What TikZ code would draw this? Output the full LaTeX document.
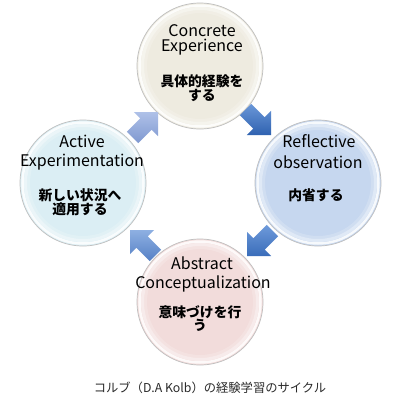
\documentclass[tikz,border=0pt]{standalone}
\usepackage{fontspec}
\setmainfont{Noto Sans CJK JP}
\definecolor{cTop}{HTML}{EEEBE0}
\definecolor{cRight}{HTML}{C6D7EF}
\definecolor{cLeft}{HTML}{DBEEF4}
\definecolor{cBottom}{HTML}{F2DCDB}
\definecolor{aOneT}{HTML}{6A97D8}
\definecolor{aOneB}{HTML}{2F62B0}
\definecolor{aTwoT}{HTML}{6E9ADA}
\definecolor{aTwoB}{HTML}{3A6DBA}
\definecolor{aThrT}{HTML}{8EB0E2}
\definecolor{aThrB}{HTML}{5580C5}
\definecolor{aFouT}{HTML}{AFC1E8}
\definecolor{aFouB}{HTML}{7F98D0}
\definecolor{capc}{HTML}{2A2A2A}
\tikzset{
  bubble/.style={circle, minimum size=126pt, inner sep=0pt, fill=#1, draw=black!25, line width=0.7pt},
  en/.style={font=\fontsize{16}{18}\selectfont, inner sep=0pt},
  ja/.style={font=\fontsize{13.8}{15}\bfseries\selectfont, inner sep=0pt},
}
\begin{document}
\begin{tikzpicture}[x=1pt,y=-1pt]
\useasboundingbox (0,0) rectangle (400,400);
\fill[white] (0,0) rectangle (400,400);

% circles
\node[bubble=cTop] (ce) at (200,66) {};
\node[bubble=cRight] (ro) at (318,183) {};
\node[bubble=cBottom] (ac) at (200,302) {};
\node[bubble=cLeft] (ae) at (83,183) {};

% glossy rims
\foreach \n in {ce,ro,ac,ae}{
  \draw[white, opacity=.85, line width=2.5pt] (\n.center) circle[radius=60.5];
  \draw[white, opacity=.45, line width=3pt] (\n.center) circle[radius=57.5];
  \draw[white, opacity=.18, line width=3pt] (\n.center) circle[radius=54.5];
}

% texts
\node[en] (ce1) at (202,31) {Concrete};
\node[en] (ce2) at (202,47) {Experience};
\node[ja] (ce3) at (202,81) {具体的経験を};
\node[ja] (ce4) at (202,95) {する};

\node[en] (ro1) at (319,141) {Reflective};
\node[en] (ro2) at (318,162) {observation};
\node[ja] (ro3) at (316,195) {内省する};

\node[en] (ae1) at (82,141) {Active};
\node[en] (ae2) at (82,162) {Experimentation};
\node[ja] (ae3) at (80,195) {新しい状況へ};
\node[ja] (ae4) at (80,209) {適用する};

\node[en] (ac1) at (202,263) {Abstract};
\node[en] (ac2) at (203,284) {Conceptualization};
\node[ja] (ac3) at (200,312) {意味づけを行};
\node[ja] (ac4) at (200,325) {う};

% block arrows
\foreach \tx/\ty/\ang/\ca/\cb in {271/135/-45/aOneT/aOneB, 247/256/-135/aTwoT/aTwoB, 130/230/135/aThrT/aThrB, 158/112/45/aFouT/aFouB}{
  \begin{scope}[shift={(\tx,\ty)}, rotate=\ang]
    \shade[top color=\ca, bottom color=\cb] (0,0) -- (-17,-17) -- (-17,-8) -- (-36,-8) -- (-36,8) -- (-17,8) -- (-17,17) -- cycle;
  \end{scope}
}

% caption
\node[font=\fontsize{12.3}{14}\selectfont, text=capc, inner sep=0pt] (cap) at (210,388) {コルブ（D.A Kolb）の経験学習のサイクル};
\end{tikzpicture}
\end{document}
